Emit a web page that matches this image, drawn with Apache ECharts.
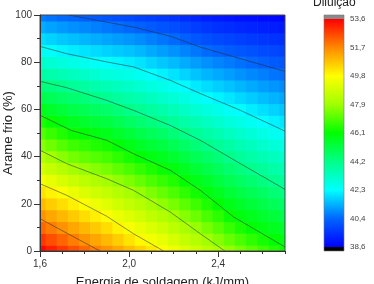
<!DOCTYPE html>
<html>
<head>
<meta charset="utf-8">
<script src="https://cdn.jsdelivr.net/npm/echarts@6/dist/echarts.min.js"></script>
<style>
html,body{margin:0;padding:0;background:#fff;}
#c{width:374px;height:284px;}
</style>
</head>
<body>
<div id="c"></div>
<script>
// ---- data ----
const energy = [1.6, 1.65, 1.7, 1.75, 1.8, 1.85, 1.9, 1.95, 2.0, 2.05, 2.1, 2.15, 2.2, 2.25, 2.3, 2.35, 2.4, 2.45, 2.5, 2.55, 2.6, 2.65, 2.7];
const coldWire = [0, 5, 10, 15, 20, 25, 30, 35, 40, 45, 50, 55, 60, 65, 70, 75, 80, 85, 90, 95, 100];
// dilution values, one array per energy column, coldWire 0 -> 100
const dil160 = [53.50,52.85,52.20,51.56,50.93,50.29,49.65,48.99,48.33,47.68,47.05,46.42,45.78,45.13,44.48,43.83,43.20,42.57,41.95,41.35,40.75];
const dil165 = [53.17,52.52,51.87,51.25,50.64,50.03,49.37,48.69,48.02,47.38,46.76,46.13,45.52,44.92,44.32,43.69,43.04,42.40,41.81,41.22,40.64];
const dil170 = [52.84,52.19,51.56,50.97,50.37,49.77,49.07,48.38,47.72,47.09,46.46,45.87,45.31,44.75,44.19,43.53,42.88,42.25,41.68,41.10,40.53];
const dil175 = [52.51,51.86,51.26,50.68,50.10,49.46,48.78,48.10,47.46,46.83,46.20,45.65,45.11,44.58,44.01,43.37,42.73,42.12,41.56,40.99,40.43];
const dil180 = [52.18,51.55,50.97,50.39,49.80,49.16,48.51,47.87,47.26,46.65,46.05,45.50,44.96,44.42,43.83,43.22,42.60,42.02,41.45,40.89,40.33];
const dil185 = [51.85,51.26,50.68,50.10,49.50,48.89,48.27,47.67,47.07,46.48,45.90,45.35,44.81,44.26,43.67,43.07,42.48,41.91,41.35,40.79,40.23];
const dil190 = [51.53,50.96,50.39,49.81,49.23,48.64,48.05,47.47,46.89,46.32,45.76,45.20,44.65,44.09,43.51,42.94,42.36,41.81,41.25,40.70,40.14];
const dil195 = [51.20,50.62,50.04,49.48,48.92,48.37,47.81,47.22,46.63,46.05,45.51,44.98,44.45,43.90,43.36,42.81,42.26,41.71,41.15,40.60,40.04];
const dil200 = [50.87,50.27,49.69,49.17,48.65,48.13,47.56,46.96,46.36,45.81,45.29,44.77,44.26,43.74,43.22,42.70,42.17,41.61,41.06,40.50,39.94];
const dil205 = [50.54,49.94,49.41,48.90,48.38,47.86,47.27,46.68,46.09,45.58,45.08,44.57,44.06,43.56,43.06,42.55,42.02,41.48,40.93,40.39,39.84];
const dil210 = [50.21,49.64,49.13,48.61,48.10,47.55,46.98,46.42,45.88,45.38,44.88,44.37,43.87,43.37,42.87,42.37,41.84,41.32,40.79,40.26,39.74];
const dil215 = [49.88,49.37,48.85,48.34,47.81,47.27,46.72,46.18,45.67,45.18,44.68,44.19,43.69,43.19,42.70,42.20,41.68,41.17,40.66,40.15,39.63];
const dil220 = [49.54,49.04,48.53,48.03,47.50,46.97,46.45,45.93,45.45,44.96,44.47,43.98,43.49,43.00,42.52,42.02,41.52,41.02,40.53,40.03,39.53];
const dil225 = [49.20,48.69,48.19,47.67,47.15,46.63,46.11,45.64,45.18,44.71,44.24,43.76,43.28,42.80,42.31,41.82,41.33,40.85,40.36,39.87,39.38];
const dil230 = [48.86,48.37,47.87,47.35,46.83,46.31,45.83,45.38,44.93,44.48,44.02,43.54,43.06,42.59,42.11,41.63,41.15,40.68,40.20,39.72,39.24];
const dil235 = [48.52,48.01,47.49,46.97,46.45,45.96,45.53,45.10,44.68,44.25,43.79,43.32,42.86,42.40,41.93,41.46,41.00,40.53,40.06,39.60,39.13];
const dil240 = [48.18,47.66,47.13,46.60,46.08,45.66,45.25,44.84,44.43,44.00,43.56,43.11,42.67,42.22,41.76,41.31,40.86,40.40,39.95,39.49,39.04];
const dil245 = [47.85,47.30,46.75,46.20,45.78,45.38,44.99,44.60,44.20,43.77,43.35,42.92,42.49,42.05,41.61,41.17,40.73,40.29,39.85,39.41,38.97];
const dil250 = [47.51,46.96,46.40,45.92,45.54,45.15,44.76,44.38,43.98,43.56,43.15,42.73,42.32,41.89,41.46,41.03,40.60,40.18,39.75,39.32,38.89];
const dil255 = [47.18,46.64,46.10,45.71,45.33,44.94,44.56,44.17,43.76,43.36,42.95,42.54,42.14,41.72,41.31,40.90,40.49,40.08,39.66,39.25,38.84];
const dil260 = [46.84,46.33,45.88,45.50,45.11,44.73,44.34,43.95,43.55,43.16,42.76,42.37,41.97,41.57,41.17,40.78,40.38,39.98,39.59,39.19,38.79];
const dil265 = [46.52,46.06,45.68,45.29,44.90,44.52,44.13,43.74,43.36,42.97,42.58,42.20,41.81,41.43,41.05,40.66,40.28,39.90,39.51,39.13,38.75];
const dil270 = [46.23,45.85,45.46,45.08,44.69,44.31,43.93,43.55,43.17,42.79,42.41,42.04,41.67,41.30,40.93,40.56,40.19,39.82,39.45,39.07,38.70];

// contour lines (levels 51.7 ... 40.4), points [energy, coldWire]
const iso517 = [[1.6,13.7],[1.7,8.6],[1.8,3.5],[1.87,0]];
const iso498 = [[1.6,28.5],[1.72,23.6],[1.9,14.7],[2.02,7.3],[2.155,0]];
const iso479 = [[1.6,42.7],[1.72,37.0],[1.9,30.6],[2.02,25.7],[2.185,16.5],[2.32,7.3],[2.43,0]];
const iso461 = [[1.6,57.5],[1.74,51.1],[1.9,46.9],[2.02,41.2],[2.185,34.2],[2.32,25.7],[2.47,14.4],[2.7,1.7]];
const iso442 = [[1.6,71.9],[1.72,69.2],[1.9,63.8],[2.02,59.6],[2.185,53.2],[2.32,46.9],[2.5,37.0],[2.7,26.1]];
const iso423 = [[1.6,86.7],[1.72,83.6],[1.9,80.1],[2.02,78.0],[2.185,72.3],[2.32,66.7],[2.5,59.6],[2.7,50.8]];
const iso404 = [[1.73,100],[1.92,96.6],[2.02,94.9],[2.185,91.0],[2.32,86.4],[2.5,81.5],[2.7,76.1]];

// colour scale levels and tick labels
const levels = [38.6, 40.475, 42.35, 44.225, 46.1, 47.975, 49.85, 51.725, 53.6];
const levelLabels = ['38,6','40,4','42,3','44,2','46,1','47,9','49,8','51,7','53,6'];
const levelColors = ['#0000ff','#0066ff','#00ffff','#00ff88','#00ff00','#a0ff00','#ffff00','#ff8800','#ff0000'];
const capAbove = [53.6, 53.863];
const capBelow = [38.337, 38.6];

// ---- build ----
const columns = [dil160,dil165,dil170,dil175,dil180,dil185,dil190,dil195,dil200,dil205,dil210,dil215,
                 dil220,dil225,dil230,dil235,dil240,dil245,dil250,dil255,dil260,dil265,dil270];
const cells = [];
energy.forEach((e, i) => coldWire.forEach((w, j) => cells.push([e, w, columns[i][j]])));
const dx = energy[1] - energy[0];
const dy = coldWire[1] - coldWire[0];
const isoLines = [iso517, iso498, iso479, iso461, iso442, iso423, iso404];

const vmin = levels[0], vmax = levels[levels.length - 1];
const stops = levels.map((l, i) => ({offset: (l - vmin) / (vmax - vmin), color: levelColors[i]}));

const chart = echarts.init(document.getElementById('c'), null, {renderer: 'canvas'});
const font = 'Liberation Sans, Arial, sans-serif';
const axisCol = '#333';

function cellItem(params, api) {
  const x = api.value(0), y = api.value(1);
  const p0 = api.coord([x - dx / 2, y + dy / 2]);
  const p1 = api.coord([x + dx / 2, y - dy / 2]);
  const shape = echarts.graphic.clipRectByRect({
    x: p0[0], y: p0[1], width: p1[0] - p0[0] + 0.6, height: p1[1] - p0[1] + 0.6
  }, {x: params.coordSys.x, y: params.coordSys.y, width: params.coordSys.width, height: params.coordSys.height});
  if (!shape) return;
  return {type: 'rect', shape: shape, style: {fill: api.visual('color')}};
}

function barItem(params, api) {
  const a = api.coord([0, vmax]), b = api.coord([1, vmin]);
  const g1 = api.coord([0, capAbove[1]]), g2 = api.coord([1, capAbove[0]]);
  const k1 = api.coord([0, capBelow[1]]), k2 = api.coord([1, capBelow[0]]);
  return {type: 'group', children: [
    {type: 'rect', shape: {x: a[0], y: a[1], width: b[0] - a[0], height: b[1] - a[1]},
     style: {fill: new echarts.graphic.LinearGradient(0, 1, 0, 0, stops)}},
    {type: 'rect', shape: {x: g1[0], y: g1[1], width: g2[0] - g1[0], height: g2[1] - g1[1]}, style: {fill: '#8a8a8a'}},
    {type: 'rect', shape: {x: k1[0], y: k1[1], width: k2[0] - k1[0], height: k2[1] - k1[1]}, style: {fill: '#000'}},
    {type: 'rect', shape: {x: g1[0], y: g1[1], width: k2[0] - g1[0], height: k2[1] - g1[1]},
     style: {fill: 'none', stroke: '#777', lineWidth: 0.6}}
  ]};
}

const fmt = v => (Math.round(v * 10) / 10).toFixed(1).replace('.', ',');

const option = {
  animation: false,
  backgroundColor: '#fff',
  textStyle: {fontFamily: font},
  grid: [
    {left: 40, top: 15, width: 245, height: 236, outerBoundsMode: 'none', containLabel: false,
     show: true, borderColor: '#444', borderWidth: 1, backgroundColor: 'transparent', z: 5},
    {left: 324, top: 15, width: 20, height: 236, outerBoundsMode: 'none', containLabel: false, show: false}
  ],
  graphic: [{
    type: 'text', left: 313, top: -3,
    style: {text: 'Diluição', font: '12px ' + font, fill: '#222'}
  }],
  visualMap: [{
    type: 'continuous', show: false, seriesIndex: 0, dimension: 2,
    min: vmin, max: vmax, inRange: {color: levelColors}
  }],
  xAxis: [
    {type: 'value', gridIndex: 0, min: 1.6, max: 2.7, interval: 0.1, position: 'bottom',
     axisLine: {show: true, lineStyle: {color: axisCol}}, axisTick: {show: true, length: 3, lineStyle: {color: axisCol}},
     axisLabel: {show: false}, splitLine: {show: false}, z: 10},
    {type: 'value', gridIndex: 0, min: 1.6, max: 2.7, interval: 0.4, position: 'bottom',
     axisLine: {show: true, lineStyle: {color: axisCol}}, axisTick: {show: true, length: 6, lineStyle: {color: axisCol}},
     axisLabel: {show: true, fontSize: 10, color: '#333', margin: 8, formatter: fmt, showMaxLabel: false},
     splitLine: {show: false},
     name: 'Energia de soldagem (kJ/mm)', nameLocation: 'middle', nameGap: 25, nameMoveOverlap: false,
     nameTextStyle: {fontSize: 13, color: '#222'}, z: 10},
    {type: 'value', gridIndex: 1, min: 0, max: 1, show: false}
  ],
  yAxis: [
    {type: 'value', gridIndex: 0, min: 0, max: 100, interval: 20,
     axisLine: {show: true, lineStyle: {color: axisCol}}, axisTick: {show: true, length: 6, lineStyle: {color: axisCol}},
     minorTick: {show: true, splitNumber: 2, length: 3, lineStyle: {color: axisCol}},
     axisLabel: {fontSize: 10, color: '#333', margin: 8}, splitLine: {show: false},
     name: 'Arame frio (%)', nameLocation: 'middle', nameGap: 25, nameRotate: 90, nameMoveOverlap: false,
     nameTextStyle: {fontSize: 13, color: '#222'}, z: 10},
    {type: 'value', gridIndex: 1, min: capBelow[0], max: capAbove[1], position: 'right',
     axisLine: {show: false},
     axisTick: {show: true, length: 3, customValues: levels, lineStyle: {color: '#444'}},
     axisLabel: {show: true, fontSize: 8, color: '#444', margin: 6, customValues: levels,
       formatter: v => { const i = levels.indexOf(v); return i >= 0 ? levelLabels[i] : fmt(v); }},
     splitLine: {show: false}}
  ],
  series: [
    {type: 'custom', xAxisIndex: 0, yAxisIndex: 0, data: cells, renderItem: cellItem, silent: true, z: 1},
    ...isoLines.map(d => ({
      type: 'line', xAxisIndex: 0, yAxisIndex: 0, data: d, symbol: 'none', silent: true, z: 3,
      lineStyle: {color: '#2a2a2a', width: 0.7, opacity: 0.75}
    })),
    {type: 'custom', xAxisIndex: 2, yAxisIndex: 1, data: [[0, vmin]], renderItem: barItem, silent: true}
  ]
};
chart.setOption(option);
</script>
</body>
</html>
